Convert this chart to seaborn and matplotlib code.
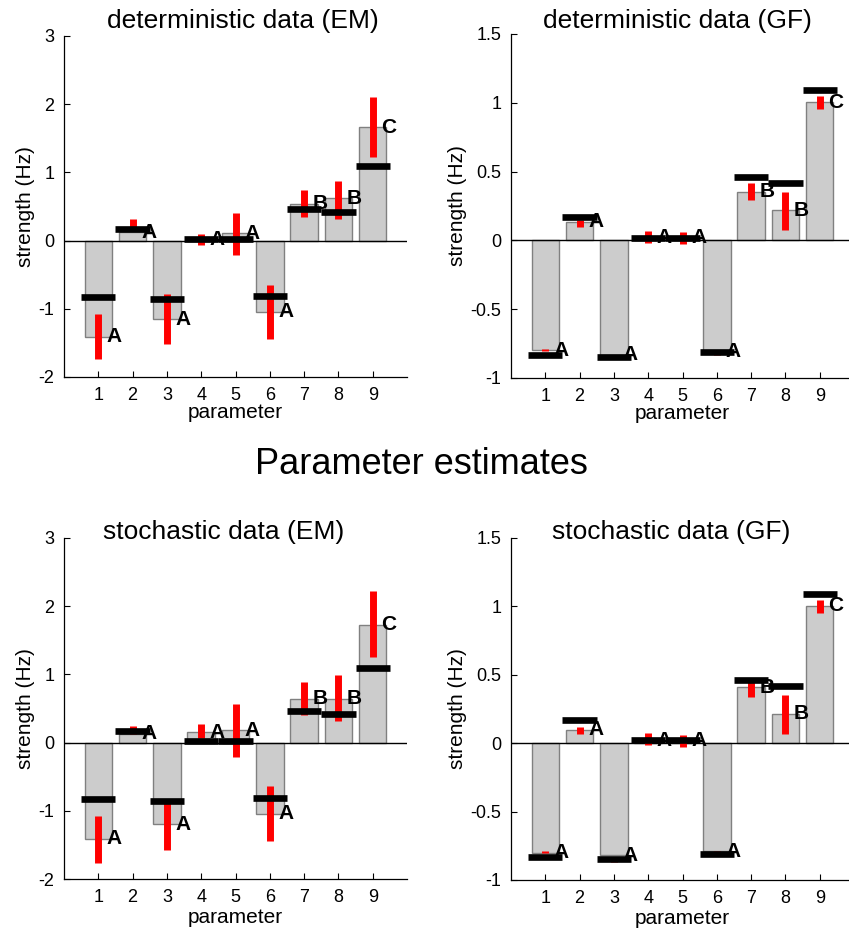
import numpy as np
import pandas as pd
import matplotlib
matplotlib.use("Agg")
import matplotlib.pyplot as plt
import seaborn as sns

# ---------------- data ----------------
params = [1, 2, 3, 4, 5, 6, 7, 8, 9]
letters = ["A", "A", "A", "A", "A", "A", "B", "B", "C"]
true_vals = [-0.83, 0.17, -0.85, 0.02, 0.02, -0.81, 0.46, 0.42, 1.09]

titles = ["deterministic data (EM)", "deterministic data (GF)",
          "stochastic data (EM)", "stochastic data (GF)"]

est_det_em = [-1.41, 0.12, -1.15, 0.02, 0.11, -1.04, 0.54, 0.62, 1.66]
lo_det_em = [-1.74, 0.15, -1.52, -0.06, -0.21, -1.44, 0.34, 0.32, 1.22]
hi_det_em = [-1.08, 0.32, -0.78, 0.10, 0.40, -0.65, 0.74, 0.88, 2.11]

est_det_gf = [-0.80, 0.135, -0.83, 0.02, 0.02, -0.81, 0.355, 0.22, 1.005]
lo_det_gf = [-0.805, 0.10, -0.85, -0.02, -0.025, -0.83, 0.29, 0.075, 0.955]
hi_det_gf = [-0.79, 0.145, -0.84, 0.068, 0.058, -0.82, 0.42, 0.355, 1.05]

est_sto_em = [-1.41, 0.13, -1.20, 0.15, 0.18, -1.04, 0.64, 0.64, 1.73]
lo_sto_em = [-1.77, 0.12, -1.58, 0.07, -0.21, -1.44, 0.40, 0.31, 1.26]
hi_sto_em = [-1.07, 0.24, -0.86, 0.28, 0.56, -0.63, 0.89, 0.99, 2.22]

est_sto_gf = [-0.80, 0.10, -0.82, 0.02, 0.02, -0.79, 0.41, 0.215, 1.005]
lo_sto_gf = [-0.80, 0.07, -0.87, -0.01, -0.025, -0.80, 0.335, 0.07, 0.955]
hi_sto_gf = [-0.785, 0.12, -0.85, 0.075, 0.06, -0.785, 0.445, 0.355, 1.05]

em_yticks = [-2, -1, 0, 1, 2, 3]
gf_yticks = [-1, -0.5, 0, 0.5, 1, 1.5]

panels = [
    (est_det_em, lo_det_em, hi_det_em, em_yticks),
    (est_det_gf, lo_det_gf, hi_det_gf, gf_yticks),
    (est_sto_em, lo_sto_em, hi_sto_em, em_yticks),
    (est_sto_gf, lo_sto_gf, hi_sto_gf, gf_yticks),
]

# ---------------- style ----------------
sns.set_style("ticks")
plt.rcParams["font.family"] = ["Liberation Sans", "DejaVu Sans"]
plt.rcParams["axes.unicode_minus"] = False
plt.rcParams["text.color"] = "black"
plt.rcParams["axes.labelcolor"] = "black"
plt.rcParams["xtick.color"] = "black"
plt.rcParams["ytick.color"] = "black"

W, H = 849, 934
fig = plt.figure(figsize=(W / 100, H / 100), dpi=100)

# axes rectangles in pixels: left, top, right, bottom
rects_px = [(64, 36, 407, 377), (511, 34, 854, 378),
            (64, 538, 407, 879), (511, 538, 854, 880)]
title_pos = [(0.522, 1.023), (0.484, 1.018), (0.466, 0.996), (0.466, 0.996)]
ylabel_x = [-0.085, -0.128, -0.085, -0.128]
xlabel_y = [-0.075, -0.075, -0.085, -0.085]

for k, (est, lo, hi, yt) in enumerate(panels):
    l, t, r, b = rects_px[k]
    ax = fig.add_axes([l / W, 1 - b / H, (r - l) / W, (b - t) / H])
    df = pd.DataFrame({"param": params, "est": est})
    sns.barplot(data=df, x="param", y="est", native_scale=True, width=0.8,
                color="#cccccc", edgecolor="#808080", linewidth=1.0,
                saturation=1, errorbar=None, ax=ax, zorder=1)
    ax.axhline(0, color="black", lw=1.0, zorder=2)
    p = np.array(params, dtype=float)
    ax.vlines(p, lo, hi, color="#ff0000", lw=5.0, zorder=3, capstyle="butt")
    ax.hlines(true_vals, p - 0.5, p + 0.5, color="black", lw=4.8, zorder=4,
              capstyle="butt")
    for x, y, s in zip(params, est, letters):
        ax.text(x + 0.47, y, s, ha="center", va="center", fontsize=15,
                fontweight="bold", color="black", zorder=5)
    ax.set_xlim(0, 10)
    ax.set_ylim(yt[0], yt[-1])
    ax.set_xticks(params)
    ax.set_xticklabels([str(v) for v in params])
    ax.set_yticks(yt)
    ax.set_yticklabels([f"{v:g}" for v in yt])
    ax.tick_params(direction="in", length=4, width=0.8, labelsize=13,
                   pad=7, colors="black")
    for side in ["top", "right"]:
        ax.spines[side].set_visible(False)
    for side in ["left", "bottom"]:
        ax.spines[side].set_color("black")
        ax.spines[side].set_linewidth(0.9)
    ax.set_xlabel("parameter", fontsize=15, color="black")
    ax.set_ylabel("strength (Hz)", fontsize=15, color="black")
    ax.yaxis.set_label_coords(ylabel_x[k], 0.5)
    ax.xaxis.set_label_coords(0.5, xlabel_y[k])
    ax.text(title_pos[k][0], title_pos[k][1], titles[k], transform=ax.transAxes,
            ha="center", va="baseline", fontsize=19, color="black")

fig.text(421 / W, 1 - 465 / H, "Parameter estimates", ha="center",
         va="center", fontsize=26, color="black")

fig.savefig("out.png", dpi=100, facecolor="white")
